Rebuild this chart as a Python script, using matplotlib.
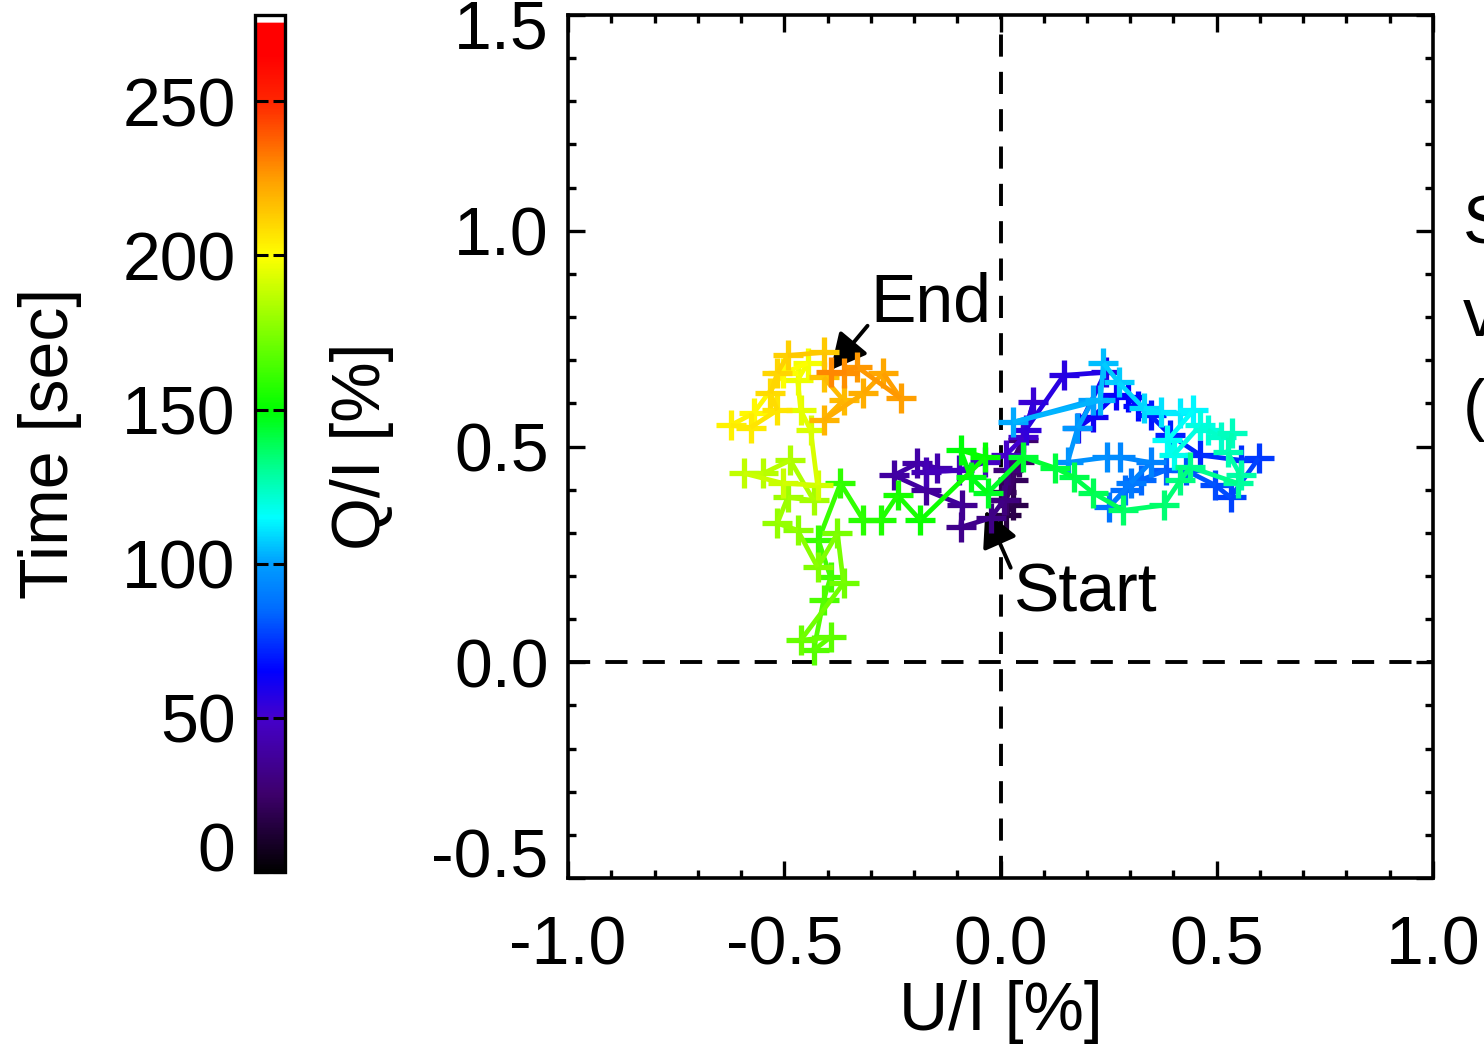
import numpy as np
import matplotlib
matplotlib.use("Agg")
import matplotlib.pyplot as plt
import matplotlib.transforms as mtransforms
from matplotlib.colors import LinearSegmentedColormap, Normalize
from matplotlib.cm import ScalarMappable

plt.rcParams['font.family'] = ['Liberation Sans', 'DejaVu Sans']
plt.rcParams['axes.unicode_minus'] = False

# ---- data: U/I and Q/I [%], sampled in time ----
U = [0.012, 0.028, 0.000, 0.030, 0.012, 0.042, 0.051, 0.018, 0.007, -0.023,
     -0.092, -0.088, -0.173, -0.247, -0.192, -0.146, -0.173, -0.097, -0.035, 0.012,
     0.053, 0.076, 0.058, 0.146, 0.243, 0.180, 0.213, 0.266, 0.294, 0.317,
     0.347, 0.393, 0.462, 0.555, 0.597, 0.532, 0.497, 0.428, 0.382, 0.324,
     0.289, 0.250, 0.301, 0.347, 0.277, 0.247, 0.155, 0.178, 0.213, 0.028,
     0.231, 0.238, 0.273, 0.331, 0.370, 0.416, 0.446, 0.386, 0.400, 0.462,
     0.479, 0.509, 0.536, 0.525, 0.555, 0.548, 0.439, 0.416, 0.377, 0.284,
     0.215, 0.169, 0.127, 0.053, -0.030, -0.069, -0.092, -0.035, -0.185, -0.238,
     -0.277, -0.317, -0.370, -0.421, -0.393, -0.409, -0.432, -0.393, -0.462, -0.363,
     -0.377, -0.423, -0.469, -0.516, -0.492, -0.432, -0.486, -0.548, -0.594, -0.504,
     -0.423, -0.439, -0.462, -0.469, -0.446, -0.502, -0.571, -0.624, -0.578, -0.516,
     -0.532, -0.516, -0.492, -0.409, -0.409, -0.363, -0.409, -0.317, -0.271, -0.231,
     -0.331, -0.363, -0.393]
Q = [0.341, 0.364, 0.394, 0.422, 0.375, 0.463, 0.514, 0.445, 0.375, 0.334,
     0.313, 0.364, 0.399, 0.433, 0.461, 0.450, 0.440, 0.445, 0.463, 0.480,
     0.521, 0.602, 0.538, 0.665, 0.672, 0.544, 0.568, 0.619, 0.614, 0.595,
     0.572, 0.526, 0.480, 0.468, 0.473, 0.382, 0.410, 0.445, 0.445, 0.422,
     0.399, 0.359, 0.415, 0.463, 0.475, 0.475, 0.463, 0.542, 0.607, 0.556,
     0.607, 0.693, 0.649, 0.589, 0.579, 0.577, 0.584, 0.514, 0.480, 0.549,
     0.538, 0.521, 0.531, 0.487, 0.433, 0.415, 0.452, 0.422, 0.364, 0.352,
     0.392, 0.429, 0.450, 0.475, 0.392, 0.429, 0.491, 0.475, 0.329, 0.387,
     0.329, 0.329, 0.415, 0.283, 0.197, 0.144, 0.028, 0.058, 0.051, 0.183,
     0.299, 0.220, 0.306, 0.322, 0.382, 0.375, 0.468, 0.438, 0.438, 0.415,
     0.410, 0.538, 0.584, 0.654, 0.693, 0.670, 0.577, 0.549, 0.544, 0.584,
     0.623, 0.670, 0.711, 0.718, 0.660, 0.607, 0.561, 0.623, 0.670, 0.612,
     0.684, 0.670, 0.672]
START_SEC = 16.0           # time of first measurement
CADENCE_SEC = 1.75         # time between consecutive measurements
time_sec = START_SEC + np.arange(len(U)) * CADENCE_SEC

cbar_ticks = [0, 50, 100, 150, 200, 250]
time_max = 278
x_ticks = [-1.0, -0.5, 0.0, 0.5, 1.0]
y_ticks = [-0.5, 0.0, 0.5, 1.0, 1.5]

# ---- IDL-like rainbow colour table with white top ----
anchors = [(0, (0, 0, 0)), (25, (0.24, 0.0, 0.42)), (50, (0.27, 0.0, 0.80)),
           (65, (0.0, 0.0, 1.0)), (85, (0.0, 0.42, 1.0)), (100, (0.0, 0.62, 1.0)),
           (115, (0.0, 1.0, 1.0)), (130, (0.0, 1.0, 0.6)), (150, (0.0, 1.0, 0.0)),
           (175, (0.5, 1.0, 0.0)), (200, (1.0, 1.0, 0.0)), (225, (1.0, 0.62, 0.0)),
           (250, (1.0, 0.15, 0.0)), (265, (1.0, 0.0, 0.0)), (275.5, (1.0, 0.0, 0.0)),
           (276, (1.0, 1.0, 1.0)), (278, (1.0, 1.0, 1.0))]
cmap = LinearSegmentedColormap.from_list(
    'idlrainbow', [(v / time_max, c) for v, c in anchors], N=512)
norm = Normalize(0, time_max)

W, H = 1484, 1047
fig = plt.figure(figsize=(W / 100, H / 100), dpi=100)
FS = 49

ax = fig.add_axes([568 / W, 1 - 878 / H, 865 / W, 863 / H])
cax = fig.add_axes([255 / W, 1 - 872 / H, 30 / W, 857 / H])

# dashed zero lines
ax.axhline(0, color='k', lw=2.8, ls=(0, (5.7, 3.9)), zorder=1)
ax.axvline(0, color='k', lw=2.8, ls=(0, (5.7, 3.9)), zorder=1)

cols = cmap(norm(time_sec))
for i in range(len(U)):
    if i > 0:
        ax.plot([U[i - 1], U[i]], [Q[i - 1], Q[i]], color=cols[i], lw=3.4,
                solid_capstyle='butt', zorder=2 + i)
    ax.plot([U[i]], [Q[i]], marker='+', ms=22, mew=3.8, color=cols[i],
            ls='none', zorder=2 + i)

ax.set_xlim(-1.0, 1.0)
ax.set_ylim(-0.5, 1.5)
ax.set_xticks(x_ticks)
ax.set_yticks(y_ticks)
ax.set_xticks(np.arange(-1.0, 1.01, 0.1), minor=True)
ax.set_yticks(np.arange(-0.5, 1.51, 0.1), minor=True)
ax.xaxis.set_major_formatter(matplotlib.ticker.FormatStrFormatter('%.1f'))
ax.yaxis.set_major_formatter(matplotlib.ticker.FormatStrFormatter('%.1f'))
ax.tick_params(which='both', direction='in', top=True, right=True, width=2.4,
               labelsize=FS)
ax.tick_params(which='major', length=12)
ax.tick_params(which='minor', length=6)
ax.tick_params(axis='x', pad=26)
ax.tick_params(axis='y', pad=14)
for s in ax.spines.values():
    s.set_linewidth(2.6)
ylabs = ax.get_yticklabels()
ylabs[0].set_va('baseline')
ylabs[-1].set_va('top')
ylabs[-1].set_transform(ylabs[-1].get_transform() +
                        mtransforms.ScaledTranslation(0, 12 / 72, fig.dpi_scale_trans))

ax.set_xlabel('U/I [%]', fontsize=FS, va='center')
ax.xaxis.set_label_coords(0.5, -0.155)
ax.set_ylabel('Q/I [%]', fontsize=FS, va='center')
ax.yaxis.set_label_coords(-0.238, 0.5)

# annotations
arrow_style = '-|>,head_length=0.55,head_width=0.28'
ax.annotate('End', xy=(-0.393, 0.677), xytext=(-0.301, 0.832), fontsize=FS,
            ha='left', va='center',
            arrowprops=dict(arrowstyle=arrow_style, color='k', lw=2.8,
                            mutation_scale=40, shrinkA=0, shrinkB=0,
                            relpos=(0.0, 0.2)))
ax.annotate('Start', xy=(-0.035, 0.352), xytext=(0.030, 0.160), fontsize=FS,
            ha='left', va='center',
            arrowprops=dict(arrowstyle=arrow_style, color='k', lw=2.8,
                            mutation_scale=40, shrinkA=0, shrinkB=0,
                            relpos=(0.0, 0.8)))

# colorbar
sm = ScalarMappable(norm=norm, cmap=cmap)
cb = fig.colorbar(sm, cax=cax)
cb.set_ticks(cbar_ticks)
cb.outline.set_linewidth(2.4)
cax.yaxis.set_ticks_position('both')
cax.tick_params(direction='in', length=9, width=2.2, labelsize=FS,
                left=True, right=True, labelleft=True, labelright=False, pad=14)
cax.set_ylabel('Time [sec]', fontsize=FS)
cax.yaxis.set_label_position('left')
cax.yaxis.label.set_va('center')
cax.yaxis.set_label_coords(-6.83, 0.5)
cax.get_yticklabels()[0].set_va('baseline')

# partially visible text at the right edge
for yy, s in [(225, 'S'), (318, 'v'), (410, '(')]:
    fig.text(1463 / W, 1 - yy / H, s, fontsize=FS, ha='left', va='center')

fig.savefig('out.png', dpi=100)
